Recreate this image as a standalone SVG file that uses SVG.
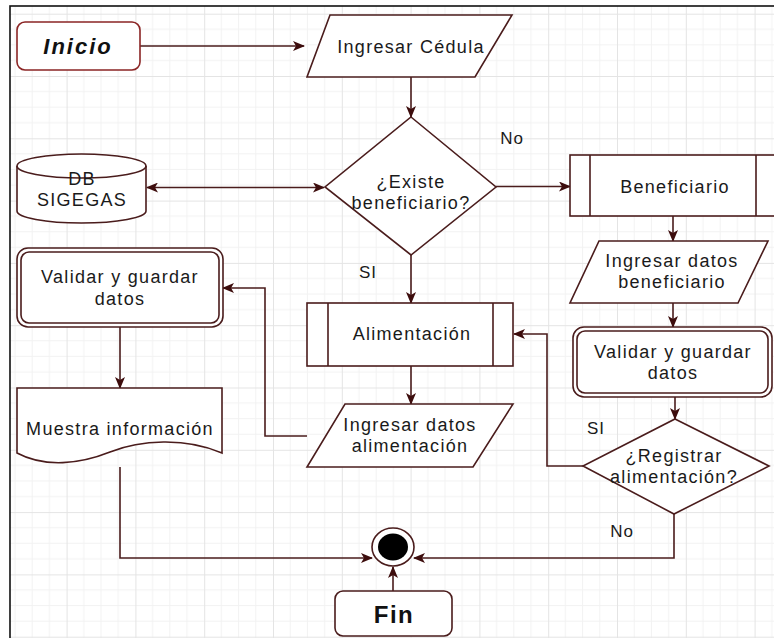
<svg xmlns="http://www.w3.org/2000/svg" width="774" height="638" viewBox="0 0 774 638">
<style>
.s{fill:#fff;stroke:#4a1c1c;stroke-width:1.6}
.c{fill:none;stroke:#4a1c1c;stroke-width:1.6}
.t{font-family:"Liberation Sans",Arial,sans-serif;font-size:18px;fill:#1a1a1a;text-anchor:middle;letter-spacing:1.3px}
.b{font-weight:bold;font-size:22px;letter-spacing:2px;fill:#111}
.l{font-size:17px;letter-spacing:1px}
</style>
<defs>
<pattern id="grid" x="-2.2" y="13.7" width="68.8" height="62.3" patternUnits="userSpaceOnUse">
<path d="M17.2,0V62.3M34.4,0V62.3M51.6,0V62.3M0,15.575H68.8M0,31.15H68.8M0,46.725H68.8" stroke="#f2f2f2" stroke-width="1" fill="none"/>
<path d="M0.5,0V62.3M0,0.5H68.8" stroke="#e4e4e4" stroke-width="1" fill="none"/>
</pattern>
<marker id="arr" viewBox="0 0 12 10" refX="11" refY="5" markerWidth="12" markerHeight="10" orient="auto-start-reverse" markerUnits="userSpaceOnUse">
<path d="M0,0 L12,5 L0,10 L3,5 Z" fill="#3d0d0d"/>
</marker>
</defs>
<rect x="0" y="0" width="774" height="638" fill="#fff"/>
<rect x="10" y="6" width="800" height="700" fill="url(#grid)" stroke="#111" stroke-width="1.6"/>

<g id="connectors">
<path class="c" d="M140,46 H304" marker-end="url(#arr)"/>
<path class="c" d="M411,77 V117" marker-end="url(#arr)"/>
<path class="c" d="M147,187.5 H324" marker-start="url(#arr)" marker-end="url(#arr)"/>
<path class="c" d="M496,186.5 H570" marker-end="url(#arr)"/>
<path class="c" d="M411,255 V303" marker-end="url(#arr)"/>
<path class="c" d="M411,366 V404" marker-end="url(#arr)"/>
<path class="c" d="M307,436 H265 V288 H223" marker-end="url(#arr)"/>
<path class="c" d="M120,327 V388" marker-end="url(#arr)"/>
<path class="c" d="M120,467 V558 H372" marker-end="url(#arr)"/>
<path class="c" d="M673,216 V241" marker-end="url(#arr)"/>
<path class="c" d="M673,303 V327" marker-end="url(#arr)"/>
<path class="c" d="M675,397 V419" marker-end="url(#arr)"/>
<path class="c" d="M583,466 H547 V334 H514" marker-end="url(#arr)"/>
<path class="c" d="M674,514 V558 H414" marker-end="url(#arr)"/>
<path class="c" d="M393,591 V567" marker-end="url(#arr)"/>
<text class="t l" x="512" y="144">No</text>
<text class="t l" x="368" y="278">SI</text>
<text class="t l" x="596" y="434">SI</text>
<text class="t l" x="622" y="537">No</text>
</g>

<g id="inicio">
<rect x="17" y="22" width="123" height="48" rx="8" fill="#fff" stroke="#8b2525" stroke-width="1.6"/>
<text class="t b" x="78" y="54" font-style="italic">Inicio</text>
</g>

<g id="ingresar-cedula">
<polygon class="s" points="330,15 512,15 475,77 307,77"/>
<text class="t" x="411" y="53">Ingresar Cédula</text>
</g>

<g id="existe-beneficiario">
<polygon class="s" points="411,117 496,187 411,255 325,187"/>
<text class="t" x="411" y="188">¿Existe</text>
<text class="t" x="411" y="209">beneficiario?</text>
</g>

<g id="db-sigegas">
<path class="s" d="M17,166 A64.5,12 0 0 1 146,166 V211 A64.5,12 0 0 1 17,211 Z"/>
<path class="c" d="M17,166 A64.5,12 0 0 0 146,166"/>
<text class="t" x="82" y="185">DB</text>
<text class="t" x="82" y="206">SIGEGAS</text>
</g>

<g id="beneficiario">
<rect class="s" x="570" y="155" width="210" height="61"/>
<path class="c" d="M590,155 V216 M756,155 V216"/>
<text class="t" x="675" y="193">Beneficiario</text>
</g>

<g id="ingresar-datos-beneficiario">
<polygon class="s" points="599,241 768,241 738,303 570,303"/>
<text class="t" x="672" y="267">Ingresar datos</text>
<text class="t" x="672" y="288">beneficiario</text>
</g>

<g id="validar-derecha">
<rect class="s" x="573" y="327" width="199" height="70" rx="11"/>
<rect class="s" x="577" y="331" width="191" height="62" rx="8"/>
<text class="t" x="673" y="358">Validar y guardar</text>
<text class="t" x="673" y="379">datos</text>
</g>

<g id="registrar-alimentacion">
<polygon class="s" points="675,419 769,466 674,514 583,466"/>
<text class="t" x="674" y="462">¿Registrar</text>
<text class="t" x="674" y="483">alimentación?</text>
</g>

<g id="alimentacion">
<rect class="s" x="307" y="303" width="206" height="63"/>
<path class="c" d="M328,303 V366 M493,303 V366"/>
<text class="t" x="412" y="340">Alimentación</text>
</g>

<g id="ingresar-datos-alimentacion">
<polygon class="s" points="345,404 513,404 473,467 307,467"/>
<text class="t" x="410" y="431">Ingresar datos</text>
<text class="t" x="410" y="452">alimentación</text>
</g>

<g id="validar-izquierda">
<rect class="s" x="17" y="248" width="206" height="79" rx="11"/>
<rect class="s" x="21" y="252" width="198" height="71" rx="8"/>
<text class="t" x="120" y="283">Validar y guardar</text>
<text class="t" x="120" y="305">datos</text>
</g>

<g id="muestra-informacion">
<path class="s" d="M17,388 H222 V453 C185,437 140,440 110,452 C80,464 45,468 17,453 Z"/>
<text class="t" x="120" y="435">Muestra información</text>
</g>

<g id="fin-estado">
<ellipse cx="393" cy="547" rx="21" ry="19" fill="#fff" stroke="#4a1c1c" stroke-width="1.6"/>
<ellipse cx="393" cy="547" rx="15" ry="13.5" fill="#000"/>
</g>

<g id="fin">
<rect class="s" x="335" y="591" width="117" height="45" rx="8"/>
<text class="t b" x="394" y="623" style="font-size:24px;letter-spacing:1.5px">Fin</text>
</g>
</svg>
